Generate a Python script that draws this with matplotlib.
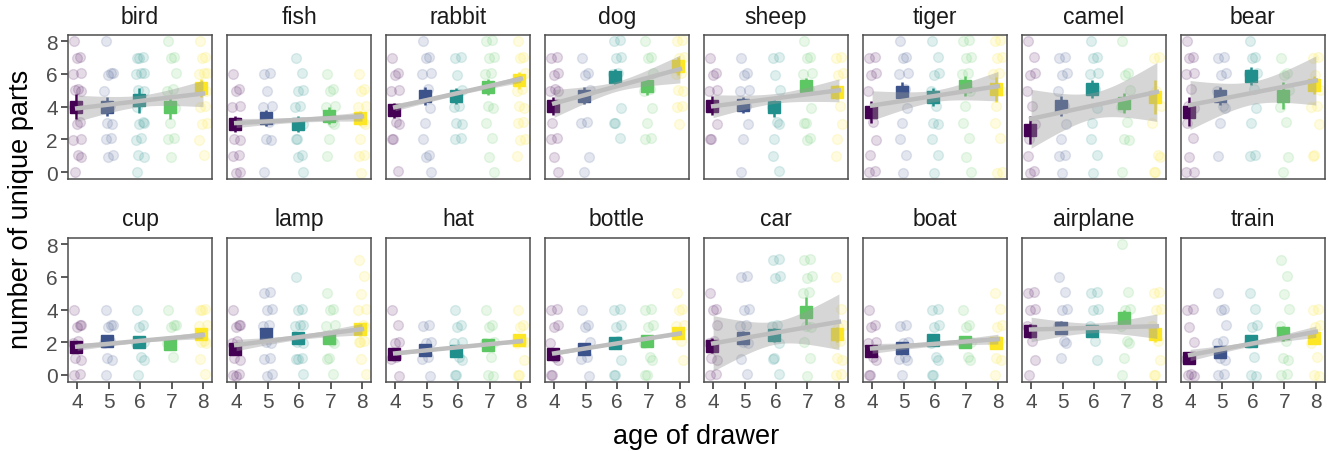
import numpy as np
import matplotlib
matplotlib.use('Agg')
import matplotlib.pyplot as plt

plt.rcParams['font.family'] = ['Liberation Sans', 'DejaVu Sans']

# ages on the x axis, one colour each (viridis, 5 levels)
ages = [4, 5, 6, 7, 8]
age_colors = ['#440154', '#3B528B', '#21908C', '#5DC863', '#FDE725']

categories = ['bird', 'fish', 'rabbit', 'dog', 'sheep', 'tiger', 'camel', 'bear',
              'cup', 'lamp', 'hat', 'bottle', 'car', 'boat', 'airplane', 'train']

# individual drawings: number of unique parts, per age
bird_pts = [[8, 7, 7, 6, 6, 5, 5, 5, 4, 3, 3, 2, 2, 1, 1, 0],
            [8, 6, 6, 6, 5, 4, 3, 3, 2, 2, 1, 1],
            [7, 7, 7, 6, 6, 6, 5, 5, 4, 3, 3, 3, 2, 2, 1, 1, 0],
            [8, 7, 7, 6, 5, 5, 4, 3, 2, 2, 1],
            [8, 7, 7, 6, 6, 6, 5, 5, 4, 4, 3, 3, 2, 1]]
fish_pts = [[6, 5, 5, 4, 4, 3, 2, 2, 1, 1, 0, 0],
            [6, 6, 5, 4, 4, 3, 2, 2, 0],
            [7, 6, 5, 5, 4, 4, 3, 2, 2, 1, 1, 0],
            [6, 5, 5, 4, 4, 3, 3, 2, 1],
            [6, 5, 5, 4, 4, 3, 3, 2, 1, 1, 0]]
rabbit_pts = [[7, 6, 6, 5, 5, 3, 3, 2, 2, 0],
              [8, 7, 7, 6, 6, 5, 4, 3, 2, 1, 1, 0],
              [7, 7, 6, 5, 4, 4, 3, 3, 2, 2],
              [8, 8, 7, 7, 6, 6, 4, 4, 3, 2, 1, 0],
              [8, 7, 7, 6, 5, 5, 4, 4, 3, 3, 2, 2, 1]]
dog_pts = [[7, 7, 6, 6, 5, 5, 5, 3, 2, 2, 1, 0],
           [7, 6, 6, 5, 3, 3, 1, 0],
           [8, 8, 7, 7, 6, 6, 4, 3, 3, 2],
           [8, 7, 7, 6, 5, 5, 4, 3, 2, 2],
           [8, 8, 7, 7, 6, 6, 5, 5, 4, 4, 3]]
sheep_pts = [[7, 6, 6, 5, 5, 4, 3, 2, 2],
             [7, 6, 6, 5, 5, 4, 3, 2, 0],
             [7, 7, 6, 5, 4, 3, 3, 2, 1, 0],
             [8, 7, 7, 6, 6, 5, 4, 3, 3, 2, 2],
             [7, 7, 6, 6, 5, 4, 3, 2, 1]]
tiger_pts = [[7, 7, 6, 6, 5, 3, 2, 1, 0, 0],
             [8, 7, 7, 6, 6, 5, 4, 3, 2, 1, 0],
             [8, 7, 6, 6, 5, 4, 3, 3, 2, 1, 0],
             [8, 8, 7, 7, 6, 6, 5, 4, 3, 2, 1, 0],
             [8, 8, 7, 7, 6, 6, 5, 4, 3, 2, 0, 0]]
camel_pts = [[8, 7, 6, 6, 5, 4, 3, 2, 1, 0, 0],
             [7, 7, 6, 6, 5, 4, 3, 2, 1, 1, 0],
             [8, 7, 7, 6, 6, 5, 4, 3, 2, 1, 0],
             [8, 6, 6, 5, 4, 3, 2, 2, 0],
             [7, 7, 5, 4, 3, 1, 1, 0, 0]]
bear_pts = [[8, 7, 7, 6, 6, 5, 4, 4, 3, 2, 1, 0, 0],
            [7, 7, 6, 6, 5, 4, 4, 3, 1],
            [8, 7, 7, 6, 6, 5, 4, 3, 1, 1],
            [7, 6, 6, 5, 4, 3, 1, 0],
            [7, 7, 6, 5, 4, 4, 3, 1, 1]]
cup_pts = [[4, 3, 3, 3, 2, 2, 1, 1, 0, 0],
           [4, 3, 3, 3, 2, 2, 1, 1, 0],
           [4, 3, 3, 2, 2, 1, 1, 0],
           [4, 3, 3, 3, 2, 1],
           [4, 4, 4, 3, 3, 2, 2, 2, 1, 0]]
lamp_pts = [[4, 3, 3, 3, 2, 2, 1, 1, 0, 0, 0],
            [5, 5, 4, 4, 3, 3, 2, 2, 1, 1, 0, 0],
            [6, 4, 4, 3, 3, 3, 2, 2, 1, 1, 1, 0],
            [5, 4, 4, 3, 3, 2, 2, 1, 1, 0],
            [7, 6, 5, 4, 4, 3, 3, 2, 2, 2, 1, 0]]
hat_pts = [[4, 3, 2, 2, 1, 1, 0],
           [3, 3, 2, 2, 1, 1, 0],
           [4, 3, 3, 2, 2, 1, 1, 0, 0],
           [4, 3, 3, 2, 2, 1, 0, 0],
           [4, 3, 3, 2, 2, 2, 1, 0, 0]]
bottle_pts = [[4, 4, 3, 3, 2, 1, 1, 0, 0],
              [4, 3, 3, 2, 1, 1, 0],
              [4, 4, 3, 3, 2, 2, 1, 0, 0],
              [4, 4, 3, 3, 2, 1, 1, 0, 0],
              [5, 4, 4, 3, 3, 2, 1]]
car_pts = [[5, 4, 4, 3, 2, 2, 1, 1, 0, 0],
           [6, 6, 4, 4, 3, 3, 2, 2, 1, 0],
           [7, 7, 6, 6, 3, 3, 2, 1, 1, 0],
           [7, 7, 6, 6, 5, 5, 3, 3, 2, 1, 0],
           [6, 4, 3, 3, 2, 2, 1, 1, 0, 0]]
boat_pts = [[4, 3, 3, 2, 2, 1, 1, 0, 0],
            [3, 3, 2, 2, 1, 1, 1, 0],
            [4, 4, 3, 3, 2, 1, 1, 0, 0],
            [4, 3, 3, 2, 2, 1, 1],
            [5, 4, 3, 3, 2, 2, 1, 1, 0]]
airplane_pts = [[5, 5, 4, 4, 3, 2, 1, 0],
                [6, 5, 4, 4, 3, 2, 2, 1],
                [5, 5, 4, 4, 3, 2, 1],
                [8, 5, 4, 4, 3, 2, 2, 1, 0],
                [5, 5, 4, 4, 3, 2, 1, 0, 0]]
train_pts = [[4, 4, 3, 2, 1, 0, 0, 0],
             [5, 4, 4, 3, 2, 2, 1, 1, 0, 0],
             [5, 4, 3, 3, 2, 1, 0, 0],
             [7, 6, 5, 4, 3, 2, 1, 1, 0, 0],
             [4, 4, 3, 3, 2, 1, 0, 0]]

points = [bird_pts, fish_pts, rabbit_pts, dog_pts, sheep_pts, tiger_pts, camel_pts, bear_pts,
          cup_pts, lamp_pts, hat_pts, bottle_pts, car_pts, boat_pts, airplane_pts, train_pts]

# mean and standard error per age
means = [[4.0, 4.0, 4.38, 3.97, 5.13],
         [2.95, 3.3, 2.95, 3.46, 3.3],
         [3.77, 4.68, 4.66, 5.19, 5.6],
         [4.03, 4.68, 5.8, 5.25, 6.5],
         [4.07, 4.1, 3.97, 5.25, 4.9],
         [3.67, 4.9, 4.6, 5.25, 5.05],
         [2.55, 4.03, 5.05, 4.24, 4.58],
         [3.7, 4.68, 5.87, 4.68, 5.34],
         [1.69, 2.07, 1.99, 1.89, 2.48],
         [1.58, 2.5, 2.23, 2.27, 2.8],
         [1.28, 1.52, 1.48, 1.83, 2.13],
         [1.26, 1.58, 1.97, 2.09, 2.58],
         [1.79, 2.27, 2.44, 3.86, 2.48],
         [1.46, 1.62, 2.13, 2.03, 1.97],
         [2.68, 2.88, 2.7, 3.49, 2.48],
         [1.06, 1.42, 2.07, 2.54, 2.27]]
sems = [[0.75, 0.6, 0.75, 0.7, 0.55],
        [0.5, 0.5, 0.5, 0.5, 0.45],
        [0.45, 0.55, 0.5, 0.5, 0.5],
        [0.55, 0.5, 0.5, 0.55, 0.55],
        [0.6, 0.5, 0.6, 0.5, 0.45],
        [0.65, 0.6, 0.55, 0.6, 0.75],
        [0.85, 0.6, 0.55, 0.6, 1.05],
        [0.9, 0.55, 0.55, 0.8, 0.55],
        [0.35, 0.3, 0.3, 0.3, 0.3],
        [0.35, 0.35, 0.35, 0.35, 0.4],
        [0.3, 0.3, 0.35, 0.3, 0.3],
        [0.3, 0.3, 0.35, 0.3, 0.35],
        [0.45, 0.4, 0.45, 0.9, 0.45],
        [0.3, 0.3, 0.35, 0.3, 0.3],
        [0.45, 0.4, 0.35, 0.45, 0.45],
        [0.3, 0.35, 0.35, 0.45, 0.35]]

# linear fit: value at age 4, value at age 8, CI half-width at age 6 and at the ends
fit_at4 = [3.9, 3.0, 3.97, 4.2, 4.03, 4.07, 3.26, 4.1, 1.73, 1.83, 1.32, 1.32, 1.93, 1.62, 2.78, 1.22]
fit_at8 = [4.8, 3.4, 5.7, 6.3, 5.0, 5.25, 4.9, 5.6, 2.44, 2.8, 2.07, 2.54, 3.25, 2.19, 2.98, 2.64]
ci_mid = [0.35, 0.15, 0.12, 0.3, 0.3, 0.35, 0.8, 0.7, 0.1, 0.15, 0.06, 0.06, 0.7, 0.15, 0.3, 0.15]
ci_end = [0.8, 0.28, 0.22, 0.85, 0.7, 0.9, 1.8, 1.5, 0.22, 0.35, 0.12, 0.12, 1.7, 0.3, 0.75, 0.35]

# fixed horizontal / vertical nudges so overlapping points stay visible
jit_x = [-0.10, 0.08, -0.02, 0.13, -0.14, 0.04, 0.11, -0.06]
jit_y = [0.0, 0.06, -0.05, 0.03, -0.02, 0.07, -0.06, 0.02]

text_col = '#1A1A1A'
axis_col = '#4D4D4D'

fig, axs = plt.subplots(2, 8, figsize=(13.35, 4.52), dpi=100, sharex=True, sharey=True)
fig.subplots_adjust(left=0.051, right=0.9925, top=0.920, bottom=0.153, wspace=0.104, hspace=0.41)

xs = np.linspace(4, 8, 60)
for k, ax in enumerate(axs.flat):
    # raw drawings
    for a, age in enumerate(ages):
        vals = points[k][a]
        px = [age + jit_x[i % len(jit_x)] for i in range(len(vals))]
        py = [v + jit_y[i % len(jit_y)] for i, v in enumerate(vals)]
        ax.scatter(px, py, s=50, color=age_colors[a], alpha=0.14,
                   edgecolors=age_colors[a], linewidths=1.0, zorder=1)

    # means with standard error
    for a, age in enumerate(ages):
        ax.errorbar(age - 0.05, means[k][a], yerr=sems[k][a], fmt='s', ms=8.5,
                    color=age_colors[a], elinewidth=1.8, capsize=0, zorder=2)

    # regression line with confidence band
    fit = fit_at4[k] + (fit_at8[k] - fit_at4[k]) * (xs - 4) / 4
    half = np.sqrt(ci_mid[k] ** 2 + (ci_end[k] ** 2 - ci_mid[k] ** 2) * ((xs - 6) / 2) ** 2)
    ax.fill_between(xs, fit - half, fit + half, color='#999999', alpha=0.4, lw=0, zorder=3)
    ax.plot(xs, fit, color='#BEBEBE', lw=3.2, zorder=4)

    ax.set_title(categories[k], fontsize=16.5, color=text_col, pad=9)
    ax.set_xlim(3.71, 8.29)
    ax.set_ylim(-0.42, 8.37)
    ax.set_xticks(ages)
    ax.set_yticks([0, 2, 4, 6, 8])
    for sp in ax.spines.values():
        sp.set_color(axis_col)
        sp.set_linewidth(1.1)
    ax.tick_params(colors=axis_col, labelcolor=axis_col, labelsize=15, length=5, width=1.3, pad=2.5)
    if k % 8 != 0:
        ax.tick_params(axis='y', left=False, labelleft=False)
    if k < 8:
        ax.tick_params(axis='x', bottom=False, labelbottom=False)

fig.text(0.5215, 0.034, 'age of drawer', ha='center', va='center', fontsize=19.5, color='black')
fig.text(0.0155, 0.5365, 'number of unique parts', ha='center', va='center', rotation=90,
         fontsize=19.5, color='black')

fig.savefig('out.png', dpi=100)
